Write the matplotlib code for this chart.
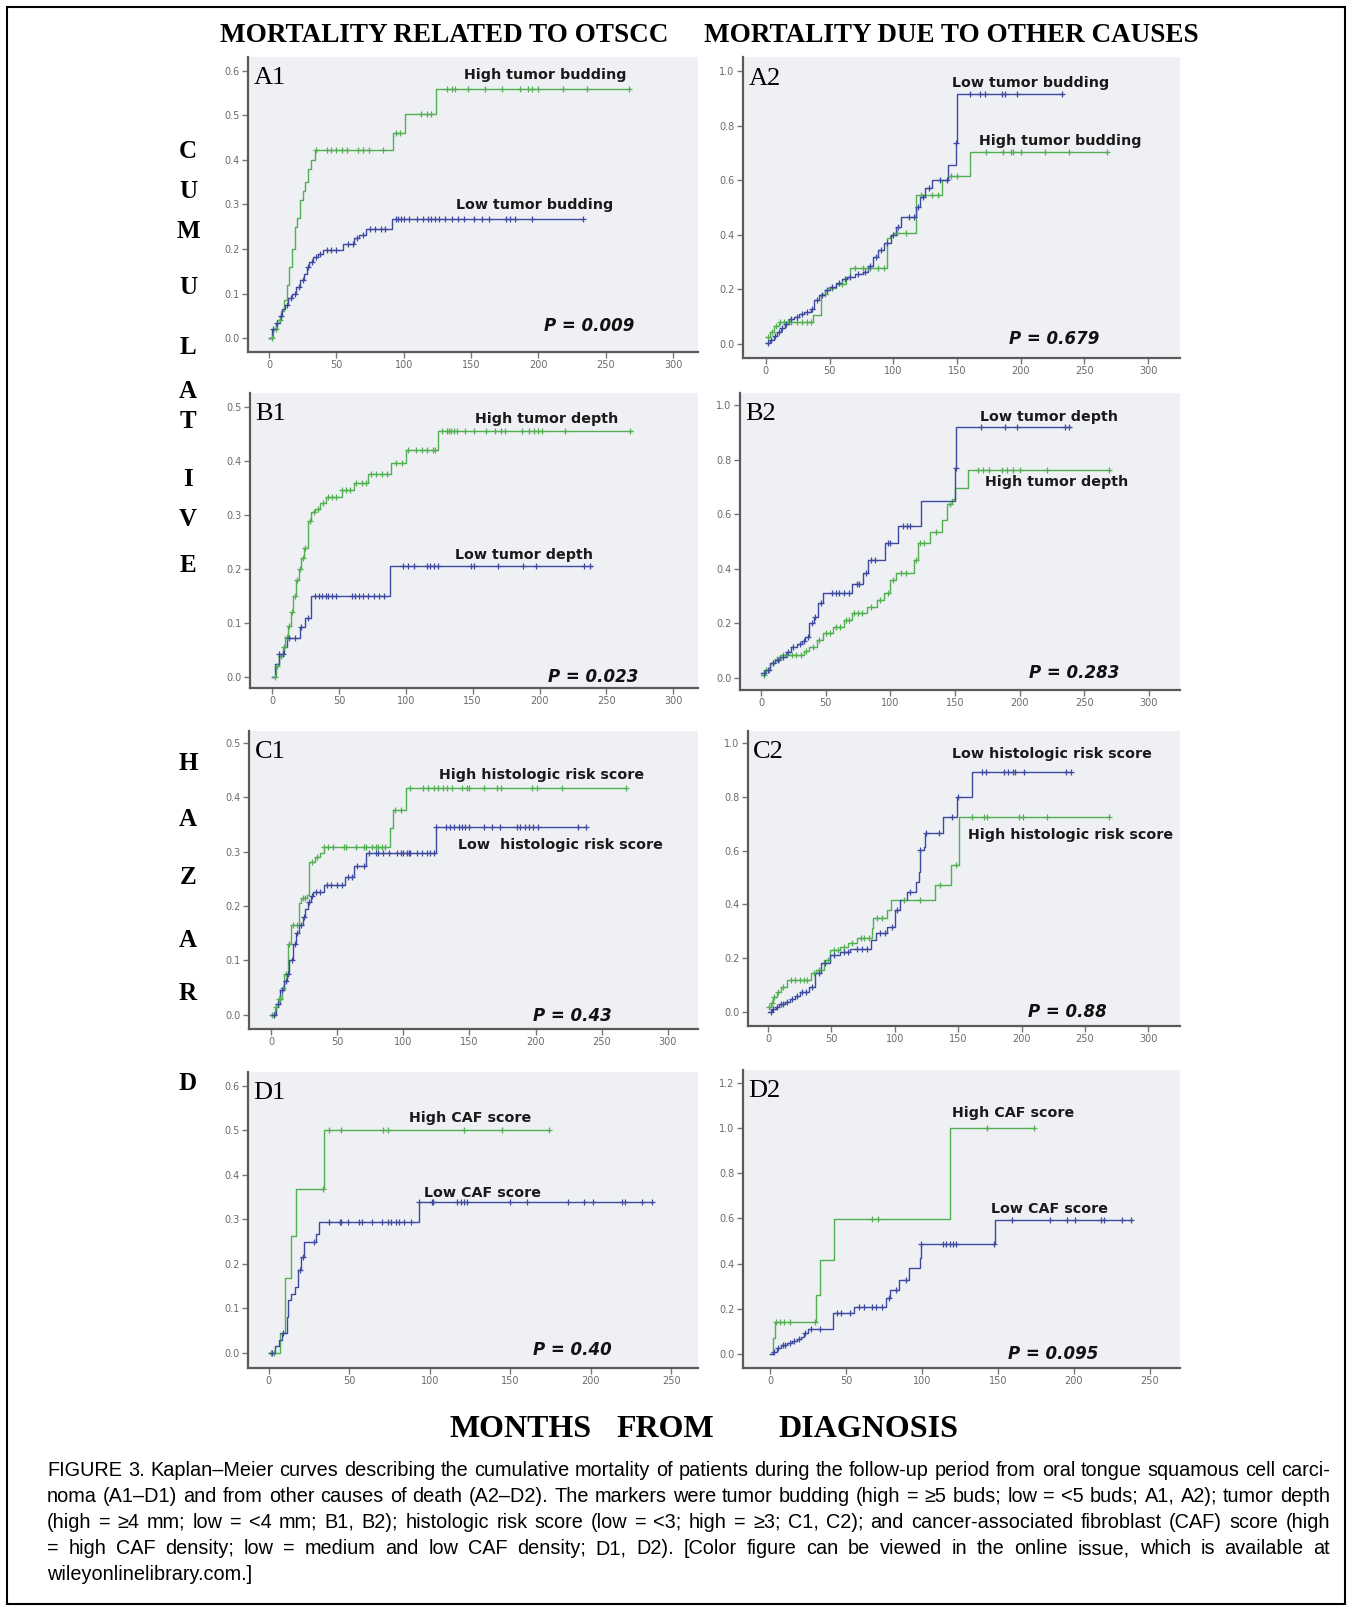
import numpy as np
import matplotlib
matplotlib.use("Agg")
import matplotlib.pyplot as plt
from matplotlib.ticker import FormatStrFormatter
from matplotlib.patches import Rectangle

# ---- data (time in months, cumulative hazard) ----
A1_HIGH_T = [0, 3, 6, 9, 11, 13, 15, 17, 19, 21, 23, 25, 27, 29, 31, 34, 92, 101, 124, 268]
A1_HIGH_H = [0, 0.02, 0.04, 0.06, 0.085, 0.12, 0.16, 0.2, 0.25, 0.27, 0.31, 0.33, 0.35, 0.38, 0.40,
             0.423, 0.461, 0.503, 0.56, 0.56]
A1_HIGH_C = [2, 5, 8, 35, 43, 46, 50, 54, 58, 66, 70, 74, 85, 94, 97, 113, 117, 120, 132, 136, 138,
             148, 160, 173, 186, 192, 195, 200, 218, 236, 267]
A1_LOW_T = [0, 2, 5, 8, 10, 12, 14, 17, 20, 23, 26, 28, 30, 33, 36, 40, 55, 63, 67, 72, 91, 233]
A1_LOW_H = [0, 0.02, 0.035, 0.05, 0.065, 0.075, 0.09, 0.10, 0.115, 0.13, 0.145, 0.16, 0.172, 0.182,
            0.19, 0.199, 0.211, 0.224, 0.232, 0.245, 0.268, 0.268]
A1_LOW_C = [3, 6, 9, 13, 16, 19, 22, 25, 29, 32, 35, 38, 43, 46, 50, 59, 62, 65, 70, 75, 79, 83, 86,
            94, 96, 98, 100, 104, 110, 114, 118, 120, 123, 126, 131, 136, 140, 145, 152, 158, 163,
            176, 179, 183, 195, 233]

A2_LOW_T = [0, 3, 6, 9, 12, 15, 18, 22, 26, 30, 35, 38, 42, 46, 50, 55, 60, 64, 70, 76, 80, 84, 88,
            93, 98, 102, 106, 118, 121, 125, 130, 143, 149, 150, 233]
A2_LOW_H = [0.005, 0.015, 0.03, 0.045, 0.06, 0.075, 0.09, 0.10, 0.11, 0.118, 0.13, 0.16, 0.18,
            0.197, 0.21, 0.222, 0.237, 0.247, 0.258, 0.265, 0.285, 0.32, 0.345, 0.37, 0.40, 0.43,
            0.465, 0.50, 0.54, 0.57, 0.60, 0.655, 0.735, 0.915, 0.915]
A2_LOW_C = [2, 4, 7, 10, 13, 16, 20, 24, 28, 32, 36, 40, 44, 48, 52, 57, 62, 66, 72, 78, 82, 86, 90,
            95, 100, 104, 112, 116, 119, 123, 128, 137, 142, 149.5, 160, 168, 172, 185, 188, 197, 232]
A2_HIGH_T = [0, 3, 6, 10, 37, 43, 48, 55, 63, 66, 95, 97, 100, 118, 138, 143, 160, 268]
A2_HIGH_H = [0.025, 0.045, 0.065, 0.08, 0.105, 0.185, 0.205, 0.22, 0.245, 0.28, 0.39, 0.395, 0.405,
             0.545, 0.60, 0.615, 0.705, 0.705]
A2_HIGH_C = [2, 5, 8, 11, 14, 17, 20, 24, 28, 32, 35, 46, 52, 60, 70, 76, 82, 88, 93, 103, 110, 122,
             130, 135, 145, 150, 173, 186, 192, 194, 200, 219, 238, 268]

B1_HIGH_T = [0, 3, 5, 8, 10, 12, 14, 16, 18, 20, 22, 24, 27, 29, 32, 36, 40, 52, 61, 72, 89, 100,
             124, 269]
B1_HIGH_H = [0, 0.02, 0.04, 0.056, 0.075, 0.095, 0.12, 0.15, 0.18, 0.2, 0.22, 0.24, 0.29, 0.305,
             0.312, 0.322, 0.334, 0.346, 0.36, 0.377, 0.396, 0.42, 0.455, 0.455]
B1_HIGH_C = [2, 4, 7, 9, 11, 13, 15, 17, 19, 21, 23, 25, 28, 31, 34, 38, 42, 45, 48, 52, 55, 58, 63,
             67, 70, 74, 78, 82, 86, 93, 97, 102, 108, 112, 116, 120, 122, 127, 131, 132, 134, 136,
             138, 144, 151, 160, 167, 171, 174, 187, 192, 196, 199, 202, 219, 268]
B1_LOW_T = [0, 2, 5, 9, 11, 21, 25, 29, 88, 239]
B1_LOW_H = [0, 0.025, 0.043, 0.056, 0.073, 0.092, 0.11, 0.15, 0.206, 0.206]
B1_LOW_C = [5, 8, 13, 17, 22, 27, 32, 35, 37, 40, 42, 45, 48, 60, 62, 65, 68, 72, 76, 80, 84, 98,
            102, 106, 116, 118, 121, 124, 149, 151, 169, 188, 197, 233, 238]

B2_LOW_T = [0, 3, 7, 11, 15, 19, 23, 28, 32, 34, 37, 41, 44, 48, 70, 79, 83, 96, 106, 124, 150,
            151, 239]
B2_LOW_H = [0.017, 0.03, 0.054, 0.065, 0.078, 0.095, 0.115, 0.125, 0.135, 0.151, 0.2, 0.224, 0.273,
            0.31, 0.346, 0.386, 0.432, 0.493, 0.556, 0.65, 0.768, 0.92, 0.92]
B2_LOW_C = [2, 5, 9, 13, 17, 21, 25, 30, 33, 36, 39, 42, 46, 55, 58, 60, 64, 68, 74, 76, 81, 85, 88,
            98, 100, 110, 113, 115, 150.5, 170, 189, 198, 235, 238]
B2_HIGH_T = [0, 3, 7, 11, 15, 33, 37, 43, 48, 56, 64, 70, 82, 90, 95, 100, 104, 118, 121, 131, 140,
             144, 148, 150, 160, 270]
B2_HIGH_H = [0.01, 0.03, 0.054, 0.07, 0.085, 0.1, 0.115, 0.139, 0.164, 0.188, 0.212, 0.237, 0.261,
             0.286, 0.31, 0.359, 0.386, 0.432, 0.493, 0.535, 0.578, 0.639, 0.657, 0.695, 0.762, 0.762]
B2_HIGH_C = [2, 4, 6, 9, 12, 14, 17, 20, 24, 27, 31, 35, 40, 45, 50, 53, 58, 61, 66, 68, 72, 75, 78,
             85, 92, 98, 102, 108, 112, 120, 123, 126, 135, 146, 168, 172, 176, 186, 190, 195, 200,
             221, 269]

C1_HIGH_T = [0, 3, 5, 8, 10, 13, 15, 21, 23, 27, 29, 33, 37, 40, 90, 92, 102, 268]
C1_HIGH_H = [0, 0.015, 0.03, 0.05, 0.075, 0.13, 0.165, 0.205, 0.215, 0.22, 0.282, 0.29, 0.297,
             0.309, 0.343, 0.377, 0.417, 0.417]
C1_HIGH_C = [1, 2, 4, 6, 7, 9, 11, 14, 17, 20, 24, 26, 31, 35, 40, 43, 47, 55, 57, 64, 70, 72, 76,
             79, 81, 84, 86, 94, 98, 105, 115, 119, 123, 126, 130, 133, 137, 144, 148, 150, 161,
             171, 174, 197, 201, 220, 268]
C1_LOW_T = [0, 4, 7, 10, 12, 14, 17, 19, 21, 24, 26, 28, 30, 32, 40, 56, 63, 72, 125, 238]
C1_LOW_H = [0, 0.02, 0.046, 0.062, 0.076, 0.1, 0.13, 0.15, 0.165, 0.18, 0.195, 0.208, 0.218, 0.226,
            0.239, 0.254, 0.273, 0.297, 0.346, 0.346]
C1_LOW_C = [2, 5, 8, 11, 13, 16, 18, 20, 23, 25, 29, 31, 34, 37, 42, 45, 50, 54, 58, 61, 65, 70,
            74, 79, 81, 85, 89, 95, 98, 100, 103, 104, 105, 110, 114, 118, 120, 123, 125, 132, 135,
            138, 142, 144, 147, 150, 161, 167, 173, 186, 188, 192, 195, 198, 202, 232, 238]

C2_LOW_T = [0, 3, 6, 9, 13, 17, 21, 25, 32, 37, 42, 49, 57, 65, 81, 85, 94, 100, 104, 110, 117, 119,
            120, 123, 124, 138, 149, 161, 239]
C2_LOW_H = [0, 0.01, 0.02, 0.03, 0.038, 0.05, 0.06, 0.075, 0.094, 0.144, 0.181, 0.212, 0.222, 0.236,
            0.267, 0.292, 0.317, 0.379, 0.416, 0.447, 0.484, 0.522, 0.602, 0.615, 0.665, 0.727,
            0.801, 0.893, 0.893]
C2_LOW_C = [2, 4, 7, 10, 12, 15, 19, 23, 27, 30, 35, 40, 45, 52, 60, 63, 70, 74, 78, 88, 92, 98,
            102, 112, 120, 125, 135, 145, 150, 169, 172, 186, 189, 193, 195, 202, 235, 239]
C2_HIGH_T = [0, 2, 4, 7, 10, 15, 34, 38, 44, 49, 57, 63, 70, 82, 83, 94, 97, 132, 144, 151, 269]
C2_HIGH_H = [0.02, 0.032, 0.057, 0.075, 0.094, 0.119, 0.144, 0.156, 0.193, 0.23, 0.243, 0.255,
             0.274, 0.311, 0.348, 0.379, 0.416, 0.472, 0.546, 0.727, 0.727]
C2_HIGH_C = [1, 3, 5, 8, 12, 18, 21, 25, 28, 31, 36, 40, 47, 52, 55, 60, 66, 73, 76, 80, 86, 90,
             107, 120, 136, 148, 161, 170, 173, 198, 201, 220, 269]

D1_HIGH_T = [0, 7, 10, 14, 17, 34, 174]
D1_HIGH_H = [0, 0.045, 0.168, 0.262, 0.368, 0.5, 0.5]
D1_HIGH_C = [1, 3, 33.5, 37, 45, 71, 74, 121, 145, 174]
D1_LOW_T = [0, 4, 6, 8, 11, 12, 14, 16, 18, 20, 22, 29, 31, 93, 238]
D1_LOW_H = [0, 0.015, 0.03, 0.044, 0.081, 0.118, 0.133, 0.148, 0.186, 0.216, 0.25, 0.268, 0.294,
            0.339, 0.339]
D1_LOW_C = [2, 9, 19, 21, 28, 37, 44, 45, 49, 56, 58, 64, 70, 74, 76, 79, 81, 84, 88, 93, 101, 102,
            117, 119, 121, 123, 150, 160, 186, 196, 201, 219, 221, 232, 238]

D2_HIGH_T = [0, 1.8, 3.2, 30.4, 33.2, 42.4, 118.8, 174]
D2_HIGH_H = [0, 0.07, 0.143, 0.261, 0.416, 0.596, 1.0, 1.0]
D2_HIGH_C = [4.1, 6.4, 9.2, 12.9, 29.5, 67.2, 70.9, 142.8, 174]
D2_LOW_T = [0, 1.8, 4.6, 7.4, 11, 14.7, 17.5, 20.3, 22.1, 24.9, 41.4, 55.3, 76.4, 79.2, 84.7, 91.2,
            98.5, 99.5, 148.3, 238.5]
D2_LOW_H = [0, 0.01, 0.025, 0.04, 0.05, 0.059, 0.068, 0.077, 0.091, 0.11, 0.18, 0.21, 0.246, 0.283,
            0.327, 0.379, 0.423, 0.487, 0.593, 0.593]
D2_LOW_C = [2.8, 5.5, 8.3, 10.1, 12.9, 15.7, 19.3, 23, 26.7, 33.2, 44.2, 47, 52.5, 58.9, 61.7, 67.2,
            70, 73.7, 78.3, 82.9, 89.3, 99.5, 114.2, 116, 118.8, 120.7, 122.5, 147.4, 159.3, 184.2,
            195.3, 200.8, 218.3, 220.1, 232.1, 237.6]

P_VALUES = ["P = 0.009", "P = 0.679", "P = 0.023", "P = 0.283",
            "P = 0.43", "P = 0.88", "P = 0.40", "P = 0.095"]
COL_TITLES = ["MORTALITY RELATED TO OTSCC", "MORTALITY DUE TO OTHER CAUSES"]
Y_LETTERS = list("CUMULATIVE") + list("HAZARD")
X_WORDS = ["MONTHS", "FROM", "DIAGNOSIS"]
CAPTION = [
    "FIGURE 3. Kaplan\u2013Meier curves describing the cumulative mortality of patients during the "
    "follow-up period from oral tongue squamous cell carci-",
    "noma (A1\u2013D1) and from other causes of death (A2\u2013D2). The markers were tumor budding "
    "(high = \u22655 buds; low = <5 buds; A1, A2); tumor depth",
    "(high = \u22654 mm; low = <4 mm; B1, B2); histologic risk score (low = <3; high = \u22653; C1, C2); "
    "and cancer-associated fibroblast (CAF) score (high",
    "= high CAF density; low = medium and low CAF density; D1, D2). [Color figure can be viewed in "
    "the online issue, which is available at",
    "wileyonlinelibrary.com.]",
]

GREEN = "#52b052"
BLUE = "#3d4aa0"
BG = "#eef0f4"
W, H = 1351, 1610

# panel layout: pixel box (l, t, r, b), axis limits, y step, last ticks, label spots
PANELS = [
    dict(name="A1", box=(248, 57, 698, 352), xlim=(-15.6, 318.5), ylim=(-0.031, 0.631), ystep=0.1, ymax=0.6, xmax=300,
         curves=[(A1_HIGH_T, A1_HIGH_H, A1_HIGH_C, GREEN), (A1_LOW_T, A1_LOW_H, A1_LOW_C, BLUE)],
         labels=[("High tumor budding", 145, 0.59), ("Low tumor budding", 139, 0.299)], p=(238, 0.027)),
    dict(name="A2", box=(743, 57, 1180, 358), xlim=(-18, 325), ylim=(-0.051, 1.051), ystep=0.2, ymax=1.0, xmax=300,
         curves=[(A2_HIGH_T, A2_HIGH_H, A2_HIGH_C, GREEN), (A2_LOW_T, A2_LOW_H, A2_LOW_C, BLUE)],
         labels=[("Low tumor budding", 146, 0.957), ("High tumor budding", 167, 0.745)], p=(226, 0.018)),
    dict(name="B1", box=(250, 393, 698, 688), xlim=(-16.5, 318.5), ylim=(-0.02, 0.526), ystep=0.1, ymax=0.5, xmax=300,
         curves=[(B1_HIGH_T, B1_HIGH_H, B1_HIGH_C, GREEN), (B1_LOW_T, B1_LOW_H, B1_LOW_C, BLUE)],
         labels=[("High tumor depth", 152, 0.477), ("Low tumor depth", 137, 0.226)], p=(240, 0.0)),
    dict(name="B2", box=(740, 393, 1180, 690), xlim=(-16.3, 324), ylim=(-0.044, 1.044), ystep=0.2, ymax=1.0, xmax=300,
         curves=[(B2_HIGH_T, B2_HIGH_H, B2_HIGH_C, GREEN), (B2_LOW_T, B2_LOW_H, B2_LOW_C, BLUE)],
         labels=[("Low tumor depth", 169, 0.957), ("High tumor depth", 173, 0.719)], p=(242, 0.02)),
    dict(name="C1", box=(249, 731, 698, 1029), xlim=(-16.6, 322.7), ylim=(-0.026, 0.522), ystep=0.1, ymax=0.5, xmax=300,
         curves=[(C1_HIGH_T, C1_HIGH_H, C1_HIGH_C, GREEN), (C1_LOW_T, C1_LOW_H, C1_LOW_C, BLUE)],
         labels=[("High histologic risk score", 127, 0.441), ("Low  histologic risk score", 141, 0.3125)],
         p=(228, -0.003)),
    dict(name="C2", box=(748, 731, 1180, 1026), xlim=(-15.8, 325), ylim=(-0.052, 1.045), ystep=0.2, ymax=1.0, xmax=300,
         curves=[(C2_HIGH_T, C2_HIGH_H, C2_HIGH_C, GREEN), (C2_LOW_T, C2_LOW_H, C2_LOW_C, BLUE)],
         labels=[("Low histologic risk score", 145, 0.958), ("High histologic risk score", 158, 0.658)],
         p=(236, 0.001)),
    dict(name="D1", box=(248, 1072, 698, 1368), xlim=(-13, 266.5), ylim=(-0.034, 0.631), ystep=0.1, ymax=0.6, xmax=250,
         curves=[(D1_HIGH_T, D1_HIGH_H, D1_HIGH_C, GREEN), (D1_LOW_T, D1_LOW_H, D1_LOW_C, BLUE)],
         labels=[("High CAF score", 87, 0.527), ("Low CAF score", 96.5, 0.36)], p=(188.6, 0.007)),
    dict(name="D2", box=(743, 1070, 1180, 1368), xlim=(-17.8, 270), ylim=(-0.062, 1.257), ystep=0.2, ymax=1.2, xmax=250,
         curves=[(D2_HIGH_T, D2_HIGH_H, D2_HIGH_C, GREEN), (D2_LOW_T, D2_LOW_H, D2_LOW_C, BLUE)],
         labels=[("High CAF score", 119.7, 1.065), ("Low CAF score", 145.5, 0.642)], p=(186.6, 0.0)),
]
LETTER_Y = [152, 191, 232, 288, 347, 391, 421, 479, 520, 565, 763, 819, 877, 940, 993, 1084]
WORD_X = [521, 665, 868]


def px_box(l, t, r, b):
    return [l / W, 1 - b / H, (r - l) / W, (b - t) / H]


def draw_km(ax, t, h, cens, color):
    t = np.asarray(t, float)
    h = np.asarray(h, float)
    ax.step(t, h, where="post", color=color, lw=1.0, zorder=3)
    c = np.asarray(cens, float)
    idx = np.clip(np.searchsorted(t, c, side="right") - 1, 0, None)
    ax.plot(c, h[idx], ls="none", marker="+", ms=4.5, mew=0.9, color=color, zorder=4)


fig = plt.figure(figsize=(W / 100, H / 100), dpi=100)
fig.patches.append(Rectangle((7 / W, 1 - 1604 / H), 1338 / W, 1597 / H, transform=fig.transFigure,
                             fill=False, ec="black", lw=1.5))

for spec, ptxt in zip(PANELS, P_VALUES):
    ax = fig.add_axes(px_box(*spec["box"]))
    ax.set_facecolor(BG)
    for t, h, c, col in spec["curves"]:
        draw_km(ax, t, h, c, col)
    ax.set_xlim(*spec["xlim"])
    ax.set_ylim(*spec["ylim"])
    ax.set_xticks(np.arange(0, spec["xmax"] + 1, 50))
    ax.set_yticks(np.arange(0, spec["ymax"] + 1e-9, spec["ystep"]))
    ax.xaxis.set_major_formatter(FormatStrFormatter("%d"))
    ax.yaxis.set_major_formatter(FormatStrFormatter("%.1f"))
    for s in ("top", "right"):
        ax.spines[s].set_visible(False)
    for s in ("left", "bottom"):
        ax.spines[s].set_color("#5a5a5a")
        ax.spines[s].set_linewidth(1.6)
    ax.tick_params(direction="out", length=4, width=1, color="#777777", labelsize=7,
                   labelcolor="#6a6a6a", pad=2)
    ax.text(0.012, 0.965, spec["name"], transform=ax.transAxes, ha="left", va="top",
            family="Liberation Serif", fontsize=19)
    for s, x, y in spec["labels"]:
        ax.text(x, y, s, ha="left", va="center", fontsize=10.3, fontweight="bold", color="#1a1a1a")
    ax.text(spec["p"][0], spec["p"][1], ptxt, ha="center", va="center", fontsize=12,
            fontweight="bold", style="italic", color="#111111")

# column titles
for title, xc in zip(COL_TITLES, [444, 951]):
    fig.text(xc / W, 1 - 35 / H, title, ha="center", va="center", family="Liberation Serif",
             fontweight="bold", fontsize=19.5)

# vertical axis title, one letter per line
for ch, y in zip(Y_LETTERS, LETTER_Y):
    fig.text(188 / W, 1 - y / H, ch, ha="center", va="center", family="Liberation Serif",
             fontweight="bold", fontsize=18)

# shared x-axis title
for word, xc in zip(X_WORDS, WORD_X):
    fig.text(xc / W, 1 - 1429 / H, word, ha="center", va="center", family="Liberation Serif",
             fontweight="bold", fontsize=23)

# caption, justified between x0 and x1
renderer = fig.canvas.get_renderer()
x0, x1 = 47, 1330
cap_font = dict(family=["Liberation Sans", "DejaVu Sans"], fontsize=14.3)
for i, line in enumerate(CAPTION):
    y = 1 - (1470 + i * 26.2) / H
    words = line.split(" ")
    objs = [fig.text(0, y, w, ha="left", va="center", **cap_font) for w in words]
    widths = [o.get_window_extent(renderer).width for o in objs]
    last = i == len(CAPTION) - 1
    gap = 5 if last else (x1 - x0 - sum(widths)) / (len(words) - 1)
    xpos = x0
    for o, wd in zip(objs, widths):
        o.set_x(xpos / W)
        xpos += wd + gap

fig.savefig("out.png", dpi=100)
